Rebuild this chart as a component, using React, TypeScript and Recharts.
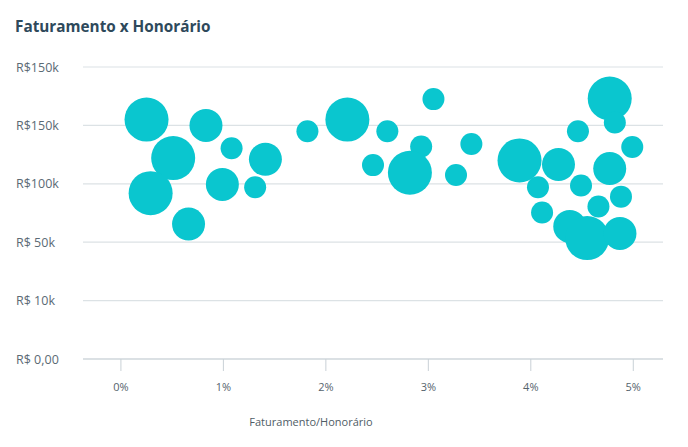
import React from 'react';
import { ScatterChart, Scatter, XAxis, YAxis, ZAxis, CartesianGrid } from 'recharts';

const xTicks = [0, 1, 2, 3, 4, 5];
const yTicks = [0, 1, 2, 3, 4, 5];
const yLabels = ['R$ 0,00', 'R$ 10k', 'R$ 50k', 'R$100k', 'R$150k', 'R$150k'];

const ratio = [0.25, 0.83, 0.51, 1.08, 1.41, 0.29, 0.99, 1.31, 0.66, 1.82, 2.21, 2.6, 2.46, 3.05, 2.93, 2.82, 3.42, 3.27, 3.89, 4.07, 4.11, 4.27, 4.46, 4.49, 4.77, 4.82, 4.99, 4.77, 4.88, 4.66, 4.38, 4.55, 4.87];
const revenue = [4.1, 4.0, 3.44, 3.61, 3.42, 2.84, 2.99, 2.94, 2.31, 3.9, 4.1, 3.9, 3.32, 4.45, 3.64, 3.19, 3.68, 3.15, 3.4, 2.94, 2.51, 3.33, 3.9, 2.97, 4.46, 4.05, 3.63, 3.26, 2.78, 2.61, 2.27, 2.07, 2.15];
const weight = [16, 9, 16, 4, 9, 16, 9, 4, 9, 4, 16, 4, 4, 4, 4, 16, 4, 4, 16, 4, 4, 9, 4, 4, 16, 4, 4, 9, 4, 4, 9, 16, 9];

const data = ratio.map((x, i) => ({ x, y: revenue[i], z: weight[i] }));

const FONT = '"Open Sans", "Noto Sans", sans-serif';

const YTick = (props: any) => {
  const { y, payload } = props;
  return (
    <text x={16} y={y} dy={4.5} fontSize={12.5} fill="#5b6a74" fontFamily={FONT} textAnchor="start">
      {yLabels[payload.value]}
    </text>
  );
};

const XLabel = (props: any) => {
  const { viewBox } = props;
  return (
    <text x={311} y={viewBox.y + viewBox.height + 7} fontSize={11} fill="#4f5d66" fontFamily={FONT} textAnchor="middle">
      Faturamento/Honorário
    </text>
  );
};

export default function App() {
  return (
    <div style={{ position: 'absolute', left: 0, top: 0, width: 688, height: 447, background: '#fff' }}>
      <div style={{ position: 'absolute', left: 15, top: 16, fontFamily: FONT, fontWeight: 700, fontSize: 15.3, color: '#2e495b' }}>
        Faturamento x Honorário
      </div>
      <ScatterChart width={688} height={447} margin={{ top: 67, right: 25, bottom: 28, left: 0 }}>
        <CartesianGrid vertical={false} stroke="#dce2e5" strokeWidth={1.2} />
        <XAxis
          type="number"
          dataKey="x"
          domain={[-0.37, 5.29]}
          ticks={xTicks}
          tickFormatter={(v: number) => `${v}%`}
          stroke="#c9d1d6"
          tickSize={12}
          tickMargin={12}
          height={60}
          tick={{ fontSize: 11, fill: '#55636c', fontFamily: FONT }}
          label={<XLabel />}
          allowDataOverflow
        />
        <YAxis
          type="number"
          dataKey="y"
          domain={[0, 5]}
          ticks={yTicks}
          width={83}
          axisLine={false}
          tickLine={false}
          tick={<YTick />}
          allowDataOverflow
        />
        <ZAxis type="number" dataKey="z" domain={[0, 16]} range={[0, 1521]} />
        <Scatter data={data} fill="#0ac6cf" isAnimationActive={false} />
      </ScatterChart>
    </div>
  );
}
